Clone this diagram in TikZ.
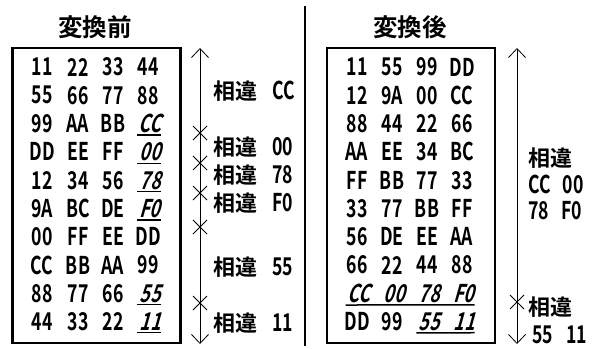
\documentclass[tikz,border=0pt]{standalone}
\usepackage{fontspec}
\usetikzlibrary{arrows.meta}
\newfontfamily\jp{Noto Sans CJK JP Bold}[FakeStretch=0.72]
\newfontfamily\jpi{Noto Sans CJK JP Bold}[FakeStretch=0.72,FakeSlant=0.28]
\newfontfamily\jpk{Noto Sans CJK JP Bold}
\newcommand{\soui}{{\jpk\fontsize{22}{22}\selectfont 相違}}
\begin{document}
\begin{tikzpicture}[x=1pt,y=-1pt,
  cell/.style={inner sep=0pt,font=\jp\fontsize{24.5}{24.5}\selectfont},
  icell/.style={inner sep=0pt,font=\jpi\fontsize{24.5}{24.5}\selectfont},
  lbl/.style={inner sep=0pt,anchor=west,font=\jp\fontsize{24.5}{24.5}\selectfont},
  ttl/.style={inner sep=0pt,font=\jpk\fontsize{24.5}{24.5}\selectfont},
  frame/.style={draw,line width=2.2pt},
  dim/.style={line width=0.8pt,{Straight Barb[length=9pt,width=17pt]}-{Straight Barb[length=9pt,width=17pt]}},
  xmark/.style={line width=0.8pt},
  uline/.style={line width=1.5pt}]
\useasboundingbox (0,0) rectangle (593,348);
% titles
\node[ttl] (tl) at (95,27) {変換前};
\node[ttl] (tr) at (410,27) {変換後};
% divider
\coordinate (d1) at (305,6);
\coordinate (d2) at (305,346);
\draw[line width=1.8pt] (d1) -- (d2);
% frames
\node[frame,minimum width=168pt,minimum height=295pt,inner sep=0pt] (bl) at (96.5,195.5) {};
\node[frame,minimum width=168pt,minimum height=295pt,inner sep=0pt] (br) at (411,195.5) {};
% left table
\foreach \r/\a/\b/\c/\d/\it in {1/11/22/33/44/0, 2/55/66/77/88/0, 3/99/AA/BB/CC/1, 4/DD/EE/FF/00/1,
  5/12/34/56/78/1, 6/9A/BC/DE/F0/1, 7/00/FF/EE/DD/0, 8/CC/BB/AA/99/0, 9/88/77/66/55/1, 10/44/33/22/11/1}{
  \pgfmathsetmacro\yy{67+28.3*(\r-1)}
  \node[cell] (L\r a) at (42,\yy) {\a};
  \node[cell] (L\r b) at (78,\yy) {\b};
  \node[cell] (L\r c) at (113,\yy) {\c};
  \ifnum\it=1
    \node[icell] (L\r d) at (150,\yy) {\d};
    \draw[uline] ([xshift=-2pt,yshift=-2pt]L\r d.south west) -- ([xshift=0pt,yshift=-2pt]L\r d.south east);
  \else
    \node[cell] (L\r d) at (148,\yy) {\d};
  \fi
}
% right table
\foreach \r/\a/\b/\c/\d in {1/11/55/99/DD, 2/12/9A/00/CC, 3/88/44/22/66, 4/AA/EE/34/BC,
  5/FF/BB/77/33, 6/33/77/BB/FF, 7/56/DE/EE/AA, 8/66/22/44/88}{
  \pgfmathsetmacro\yy{67+28.3*(\r-1)}
  \node[cell] (R\r a) at (357,\yy) {\a};
  \node[cell] (R\r b) at (392,\yy) {\b};
  \node[cell] (R\r c) at (427,\yy) {\c};
  \node[cell] (R\r d) at (462,\yy) {\d};
}
\node[icell] (R9a) at (359,293.4) {CC};
\node[icell] (R9b) at (394,293.4) {00};
\node[icell] (R9c) at (429,293.4) {78};
\node[icell] (R9d) at (464,293.4) {F0};
\draw[uline] ([xshift=-2pt,yshift=-2pt]R9a.south west) -- ([xshift=0pt,yshift=-2pt]R9d.south east);
\node[cell] (R10a) at (357,321.7) {DD};
\node[cell] (R10b) at (392,321.7) {99};
\node[icell] (R10c) at (429,321.7) {55};
\node[icell] (R10d) at (464,321.7) {11};
\draw[uline] ([xshift=-2pt,yshift=-2pt]R10c.south west) -- ([xshift=0pt,yshift=-2pt]R10d.south east);
% left dimension line
\coordinate (la1) at (200,48);
\coordinate (la2) at (200,344);
\draw[dim] (la1) -- (la2);
\foreach \n/\y in {1/133,2/163,3/193,4/227,5/303}{
  \coordinate (lx\n) at (200,\y);
  \draw[xmark] ([shift={(-7,-7)}]lx\n) -- ([shift={(7,7)}]lx\n);
  \draw[xmark] ([shift={(-7,7)}]lx\n) -- ([shift={(7,-7)}]lx\n);
}
\node[lbl] (l1) at (213,91) {\soui\hspace{15pt}CC};
\node[lbl] (l2) at (213,147) {\soui\hspace{15pt}00};
\node[lbl] (l3) at (213,175) {\soui\hspace{15pt}78};
\node[lbl] (l4) at (213,203) {\soui\hspace{15pt}F0};
\node[lbl] (l5) at (213,267) {\soui\hspace{15pt}55};
\node[lbl] (l6) at (213,323) {\soui\hspace{15pt}11};
% right dimension line
\coordinate (ra1) at (517,48);
\coordinate (ra2) at (517,344);
\draw[dim] (ra1) -- (ra2);
\coordinate (rx1) at (517,302);
\draw[xmark] ([shift={(-7,-7)}]rx1) -- ([shift={(7,7)}]rx1);
\draw[xmark] ([shift={(-7,7)}]rx1) -- ([shift={(7,-7)}]rx1);
\node[lbl] (r1) at (528,158) {\soui};
\node[lbl] (r2) at (528,184) {CC\hspace{12pt}00};
\node[lbl] (r3) at (528,211) {78\hspace{12pt}F0};
\node[lbl] (r4) at (528,307) {\soui};
\node[lbl] (r5) at (532,335) {55\hspace{13pt}11};
\end{tikzpicture}
\end{document}
